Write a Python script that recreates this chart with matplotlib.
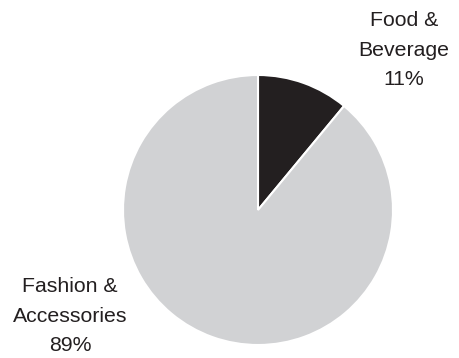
import matplotlib
matplotlib.use("Agg")
import matplotlib.pyplot as plt

# category shares (percent)
categories = ["Food &\nBeverage", "Fashion &\nAccessories"]
shares = [11, 89]
colors = ["#231f20", "#d1d2d4"]

plt.rcParams["font.family"] = ["Liberation Sans", "DejaVu Sans"]

fig = plt.figure(figsize=(4.6, 3.58), dpi=100)
ax = fig.add_axes([0, 0, 1, 1])

ax.pie(shares, colors=colors, startangle=90, counterclock=False,
       center=(258, 148), radius=135, frame=True,
       wedgeprops=dict(edgecolor="white", linewidth=1.5))
ax.set_xlim(0, 460)
ax.set_ylim(0, 358)
ax.set_aspect("equal")
ax.axis("off")

# labels outside the pie
label_pos = [(404, 308), (70, 42)]
for name, val, (x, y) in zip(categories, shares, label_pos):
    ax.text(x, y, f"{name}\n{val}%", ha="center", va="center",
            fontsize=15.3, color="#231f20", linespacing=1.68)

fig.savefig("out.png", dpi=100)
